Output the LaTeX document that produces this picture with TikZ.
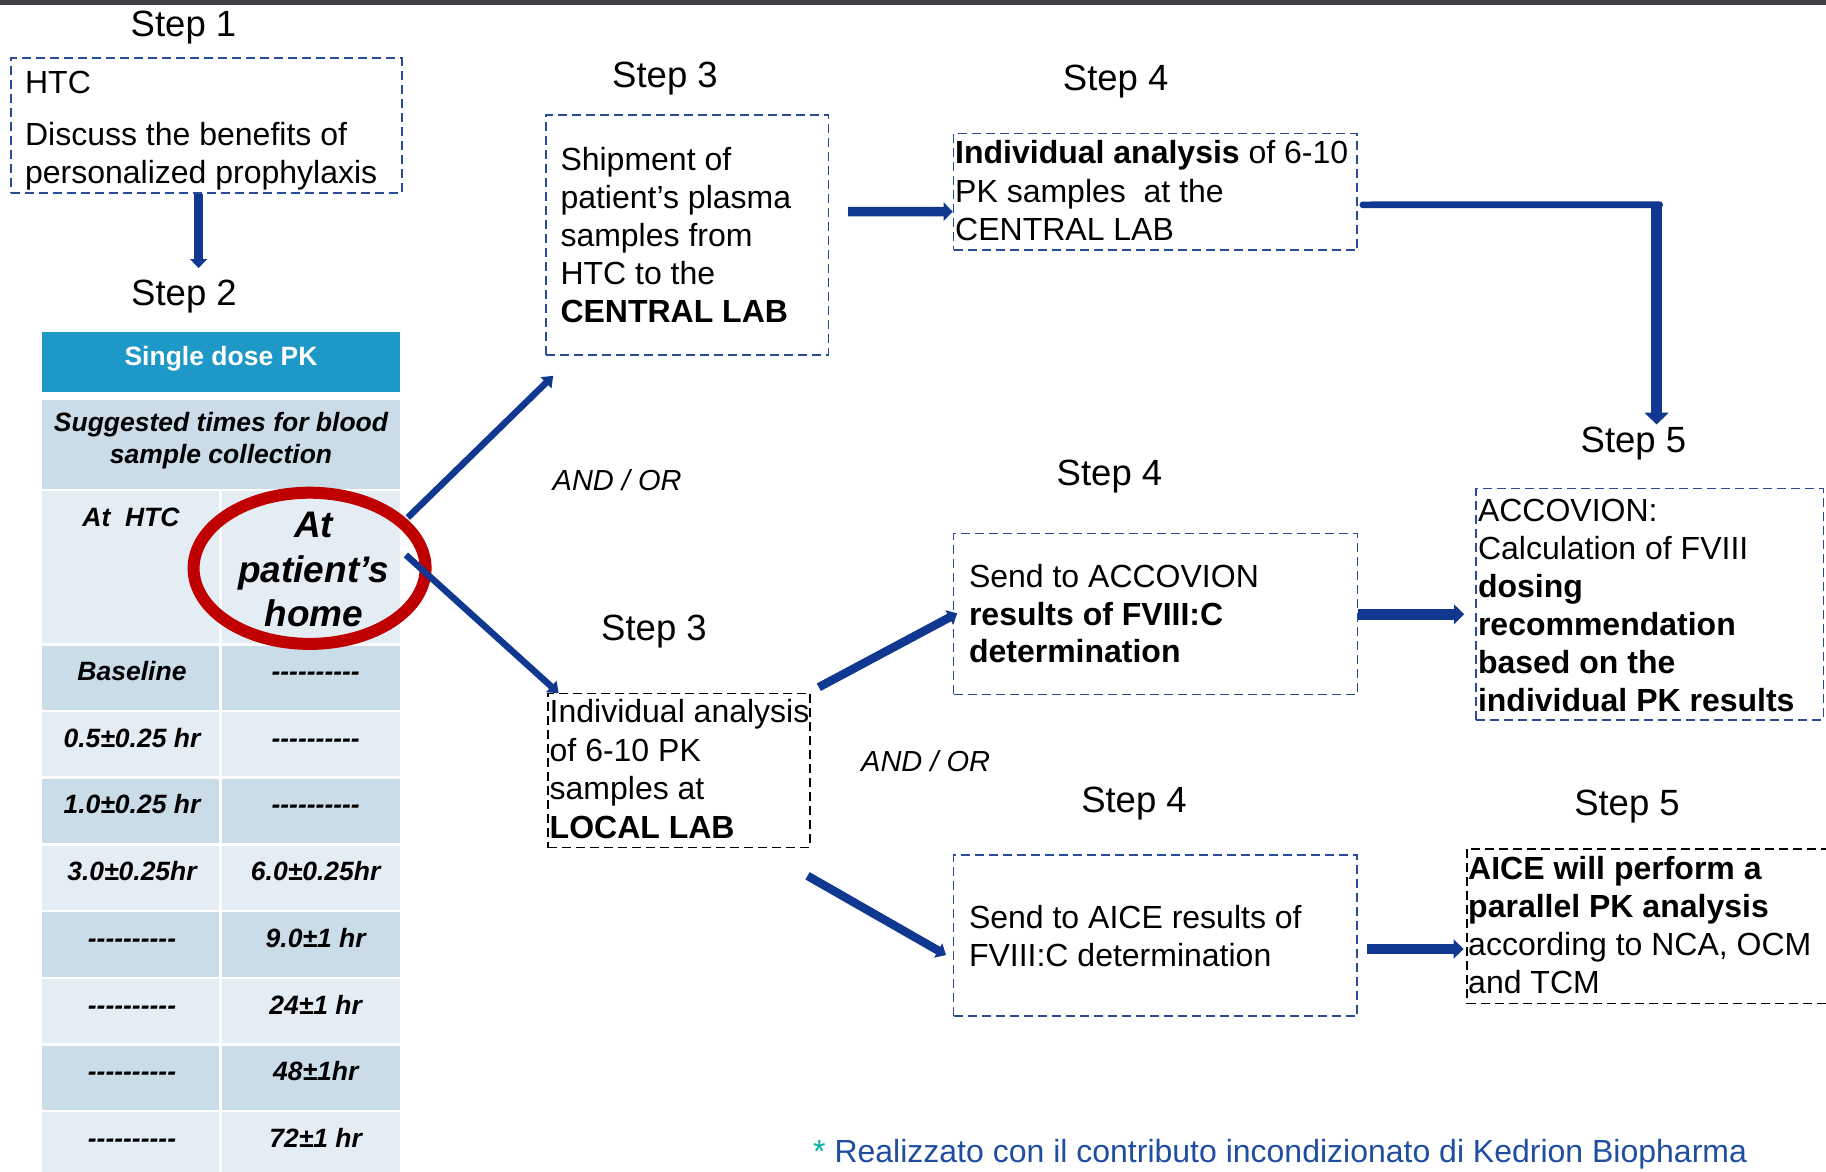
\documentclass[tikz,border=0pt]{standalone}
\usepackage{fontspec}
\setmainfont{Liberation Sans}
\usetikzlibrary{arrows.meta,calc,fit}
\definecolor{arrblue}{RGB}{16,56,144}
\definecolor{boxblue}{RGB}{40,76,152}
\definecolor{hdrblue}{RGB}{30,152,199}
\definecolor{rowdark}{RGB}{201,220,232}
\definecolor{rowlight}{RGB}{228,237,244}
\definecolor{ringred}{RGB}{192,0,0}
\definecolor{topbar}{RGB}{66,66,70}
\definecolor{footblue}{RGB}{31,78,160}
\definecolor{footteal}{RGB}{0,176,160}
\newcommand\tdash{-\kern0pt-\kern0pt-\kern0pt-\kern0pt-\kern0pt-\kern0pt-\kern0pt-\kern0pt-\kern0pt-}
\begin{document}
\begin{tikzpicture}[x=1pt,y=-1pt,
  steplabel/.style={anchor=base, inner sep=0pt, font=\fontsize{36.5}{43}\selectfont},
  txt/.style={anchor=base west, inner sep=0pt, font=\fontsize{32}{38}\selectfont},
  andor/.style={anchor=base west, inner sep=0pt, font=\fontsize{29}{35}\selectfont\itshape},
  bluebox/.style={draw=boxblue, line width=1.6pt, dash pattern=on 9pt off 5pt, inner sep=0pt},
  blackbox/.style={draw=black, line width=1.6pt, dash pattern=on 9pt off 5pt, inner sep=0pt},
  cell/.style={inner sep=0pt, draw=none},
  tabtxt/.style={anchor=base, inner sep=0pt, font=\fontsize{26.5}{31}\selectfont\bfseries\itshape},
  arr/.style={draw=arrblue, -{Triangle[length=10pt,width=18pt]}},
]
\useasboundingbox (0,0) rectangle (1826,1172);
\fill[topbar] (0,0) rectangle (1826,5.5);

% ---------- step labels
\node[steplabel] (s1) at (183.5,36.5) {Step 1};
\node[steplabel] (s2) at (184,305) {Step 2};
\node[steplabel] (s3a) at (665,87.5) {Step 3};
\node[steplabel] (s4a) at (1115.7,91) {Step 4};
\node[steplabel] (s4b) at (1109.5,485) {Step 4};
\node[steplabel] (s3b) at (654,640) {Step 3};
\node[steplabel] (s4c) at (1134,812) {Step 4};
\node[steplabel] (s5a) at (1633.4,452) {Step 5};
\node[steplabel] (s5b) at (1627,815) {Step 5};

% ---------- boxes
\node[bluebox, fit={(10.7,58.3) (401.8,192.7)}] (b1) {};
\node[bluebox, fit={(546,115) (828.4,355)}] (b3a) {};
\node[bluebox, fit={(953.5,133.3) (1357,250)}] (b4a) {};
\node[bluebox, fit={(953.6,533.3) (1357.4,694.3)}] (b4b) {};
\node[blackbox, fit={(548.2,693.3) (810,847.5)}] (b3b) {};
\node[bluebox, fit={(953.5,855) (1357,1016)}] (b4c) {};
\node[bluebox, fit={(1476,488.5) (1823.3,719.7)}] (b5a) {};
\node[inner sep=0pt, fit={(1467,849) (1830,1003.3)}] (b5b) {};
\draw[draw=black, line width=1.6pt, dash pattern=on 9pt off 5pt] (b5b.north east) -| (b5b.south west) -- (b5b.south east);

% ---------- box texts
\node[txt] (b1t1) at (24.9,93.3) {HTC};
\node[txt] (b1t2) at (24.9,145) {Discuss the benefits of};
\node[txt] (b1t3) at (24.9,183) {personalized prophylaxis};

\foreach \l [count=\i] in {Shipment of, patient’s plasma, samples from, HTC to the, \textbf{CENTRAL LAB}}
  \node[txt] (b3at\i) at (560.3,{170+38*(\i-1)}) {\l};

\foreach \l [count=\i] in {{\textbf{Individual analysis} of 6-10}, {PK samples\ \ at the}, CENTRAL LAB}
  \node[txt] (b4at\i) at (955,{163.5+38.5*(\i-1)}) {\l};

\foreach \l [count=\i] in {Send to ACCOVION, \textbf{results of FVIII:C}, \textbf{determination}}
  \node[txt] (b4bt\i) at (968.8,{587.3+37.7*(\i-1)}) {\l};

\foreach \l [count=\i] in {Individual analysis, of 6-10 PK, samples at, \textbf{LOCAL LAB}}
  \node[txt] (b3bt\i) at (549.5,{722.7+38.5*(\i-1)}) {\l};

\foreach \l [count=\i] in {Send to AICE results of, FVIII:C determination}
  \node[txt] (b4ct\i) at (968.8,{928.3+38.4*(\i-1)}) {\l};

\foreach \l [count=\i] in {ACCOVION:, Calculation of FVIII, \textbf{dosing}, \textbf{recommendation}, \textbf{based on the}, \textbf{individual PK results}}
  \node[txt] (b5at\i) at (1477.8,{521+38*(\i-1)}) {\l};

\foreach \l [count=\i] in {\textbf{AICE will perform a}, \textbf{parallel PK analysis}, {according to NCA, OCM}, and TCM}
  \node[txt] (b5bt\i) at (1468,{879+38.3*(\i-1)}) {\l};

\node[andor] (ao1) at (552.5,490) {AND / OR};
\node[andor] (ao2) at (861,771) {AND / OR};

% ---------- table
\node[cell, fill=hdrblue, fit={(42.1,331.7) (400,391.7)}] (hdr) {};
\node[anchor=base, inner sep=0pt, text=white, font=\fontsize{26.5}{31}\selectfont\bfseries] (hdrt) at (221,365) {Single dose PK};
\node[cell, fill=rowdark, fit={(42.1,400) (400,489.3)}] (r2) {};
\node[tabtxt] (r2t1) at (221,431.7) {Suggested times for blood};
\node[tabtxt] (r2t2) at (221,463.3) {sample collection};
\node[cell, fill=rowlight, fit={(42.1,491) (219.4,643.3)}] (htccell) {};
\node[cell, fill=rowlight, fit={(221.9,491) (400,643.3)}] (homecell) {};
\node[tabtxt] (htct) at (131,526.3) {At\ \ HTC};
\node[tabtxt, font=\fontsize{37}{44}\selectfont\bfseries\itshape] (home1) at (313.8,537.4) {At};
\node[tabtxt, font=\fontsize{37}{44}\selectfont\bfseries\itshape] (home2) at (313.8,582.4) {patient’s};
\node[tabtxt, font=\fontsize{37}{44}\selectfont\bfseries\itshape] (home3) at (313.8,626.5) {home};

\foreach \i/\c/\lt/\rt in {0/rowdark/Baseline/\tdash, 1/rowlight/{0.5±0.25 hr}/\tdash, 2/rowdark/{1.0±0.25 hr}/\tdash, 3/rowlight/{3.0±0.25hr}/{6.0±0.25hr}, 4/rowdark/\tdash/{9.0±1 hr}, 5/rowlight/\tdash/{24±1 hr}, 6/rowdark/\tdash/{48±1hr}, 7/rowlight/\tdash/{72±1 hr}}{
  \pgfmathsetmacro\rtop{645.5+66.7*\i}
  \pgfmathsetmacro\rbot{\rtop+64.2}
  \pgfmathsetmacro\rbl{\rtop+35}
  \node[cell, fill=\c, fit={(42.1,\rtop) (219.4,\rbot)}] (L\i) {};
  \node[cell, fill=\c, fit={(221.9,\rtop) (400,\rbot)}] (R\i) {};
  \node[tabtxt] (Lt\i) at (132,\rbl) {\lt};
  \node[tabtxt] (Rt\i) at (315.7,\rbl) {\rt};
}

\draw[ringred, line width=12pt] (309.6,568.3) ellipse [x radius=116, y radius=75.6];

% ---------- connectors
\coordinate (a1e) at (198.6,268);
\draw[arr, line width=8.4pt, -{Triangle[length=9pt,width=17pt]}] (b1.south -| a1e) -- (a1e);

\draw[arr, line width=6.5pt, -{Triangle[length=10pt,width=15pt]}]
  ($(homecell.east)+(7.6,-49.6)$) -- ($(b3a.south west)+(8,20)$);
\draw[arr, line width=6.5pt, -{Triangle[length=10pt,width=15pt]}]
  ($(homecell.east)+(5.7,-12.2)$) -- ($(b3b.north west)+(11.3,0.7)$);

\draw[arr, line width=9.5pt, -{Triangle[length=9pt,width=18pt]}]
  ($(b3a.east)+(18.9,-23.3)$) -- ($(b4a.west)+(0,20)$);

\coordinate (elb) at (1656.6,204.8);
\coordinate (a5e) at (1656.6,424.5);
\draw[arrblue, line width=6.7pt, line cap=round] ($(b4a.east)+(5,13.2)$) -- ($(elb)+(3,0)$);
\draw[arr, line width=11pt, -{Triangle[length=12pt,width=24pt]}] ($(elb)+(0,-3.3)$) -- (a5e);

\draw[arr, line width=11pt, -{Triangle[length=10pt,width=19pt]}]
  ($(b4b.east)+(0,0.5)$) -- ($(b4b.east -| b5a.west)+(-11,0.5)$);

\draw[arr, line width=8.5pt, -{Triangle[length=9pt,width=16pt]}]
  ($(b3b.north east)+(8,-5.3)$) -- ($(b4b.west)+(4.4,-0.5)$);
\draw[arr, line width=8.5pt, -{Triangle[length=9pt,width=16pt]}]
  ($(b3b.south east)+(-3.3,27.5)$) -- ($(b4c.west)+(-6.7,19.5)$);

\draw[arr, line width=10.7pt, -{Triangle[length=10pt,width=19pt]}]
  ($(b4c.east)+(8.7,13.5)$) -- ($(b5b.west)+(-3.2,22.85)$);

% ---------- footer
\node[anchor=base west, inner sep=0pt, text=footblue, font=\fontsize{32}{38}\selectfont] (foot) at (813,1162)
  {\textcolor{footteal}{*} Realizzato con il contributo incondizionato di Kedrion Biopharma};
\end{tikzpicture}
\end{document}
